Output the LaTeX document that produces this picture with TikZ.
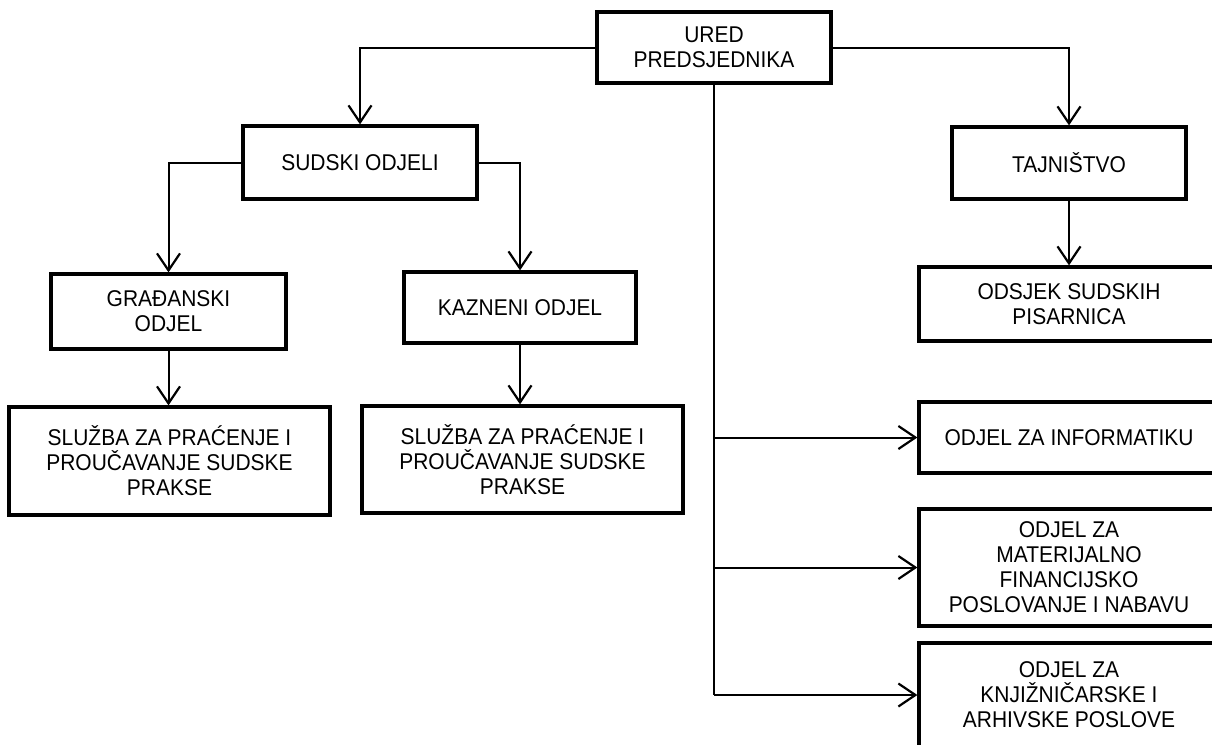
\documentclass[tikz,border=0pt]{standalone}
\usepackage{fontspec}
\setmainfont[FakeStretch=0.92]{Liberation Sans}
\usetikzlibrary{arrows.meta}
\begin{document}
\begin{tikzpicture}[x=1pt,y=-1pt,
  box/.style={draw=black, line width=3.3pt, fill=white, inner sep=0pt, align=center,
    font=\fontsize{22.8}{25}\selectfont},
  conn/.style={line width=2pt},
  arr/.style={line width=2pt, -{Straight Barb[length=17pt,width=23pt,line width=2.2pt]}}]
\useasboundingbox (0,0) rectangle (1212,744);
\fill[white] (0,0) rectangle (1212,744);
\node[box, minimum width=234pt, minimum height=71pt] (ured) at (714,47.5) {URED\\PREDSJEDNIKA};
\node[box, minimum width=234pt, minimum height=73pt] (sudski) at (360,162.5) {SUDSKI ODJELI};
\node[box, minimum width=234pt, minimum height=72pt] (tajn) at (1069,163) {TAJNIŠTVO};
\node[box, minimum width=235pt, minimum height=75pt] (grad) at (168.5,311.5) {GRAĐANSKI\\ODJEL};
\node[box, minimum width=232pt, minimum height=71pt] (kaz) at (520,307.5) {KAZNENI ODJEL};
\node[box, minimum width=321pt, minimum height=108pt] (sl1) at (169.5,461) {SLUŽBA ZA PRAĆENJE I\\PROUČAVANJE SUDSKE\\PRAKSE};
\node[box, minimum width=321pt, minimum height=107pt] (sl2) at (522.5,459.5) {SLUŽBA ZA PRAĆENJE I\\PROUČAVANJE SUDSKE\\PRAKSE};
\node[box, minimum width=300pt, minimum height=74pt] (odsjek) at (1069,304) {ODSJEK SUDSKIH\\PISARNICA};
\node[box, minimum width=300pt, minimum height=71pt] (inf) at (1069,437.5) {ODJEL ZA INFORMATIKU};
\node[box, minimum width=300pt, minimum height=117pt] (mat) at (1069,567.5) {ODJEL ZA\\MATERIJALNO\\FINANCIJSKO\\POSLOVANJE I NABAVU};
\node[box, minimum width=300pt, minimum height=104pt] (knj) at (1069,695) {ODJEL ZA\\KNJIŽNIČARSKE I\\ARHIVSKE POSLOVE};
\coordinate (tb) at (714,695);
\draw[arr] (ured.west) -| (sudski.north);
\draw[arr] (ured.east) -| (tajn.north);
\draw[arr] (sudski.west) -| (grad.north);
\draw[arr] (sudski.east) -| (kaz.north);
\draw[arr] (grad.south) -- (grad.south |- sl1.north);
\draw[arr] (kaz.south) -- (kaz.south |- sl2.north);
\draw[arr] (tajn.south) -- (odsjek.north);
\draw[conn] (ured.south) -- (tb);
\draw[arr] (ured.south |- inf.west) -- (inf.west);
\draw[arr] (ured.south |- mat.west) -- (mat.west);
\draw[arr] (tb) -- (knj.west);
\end{tikzpicture}
\end{document}
